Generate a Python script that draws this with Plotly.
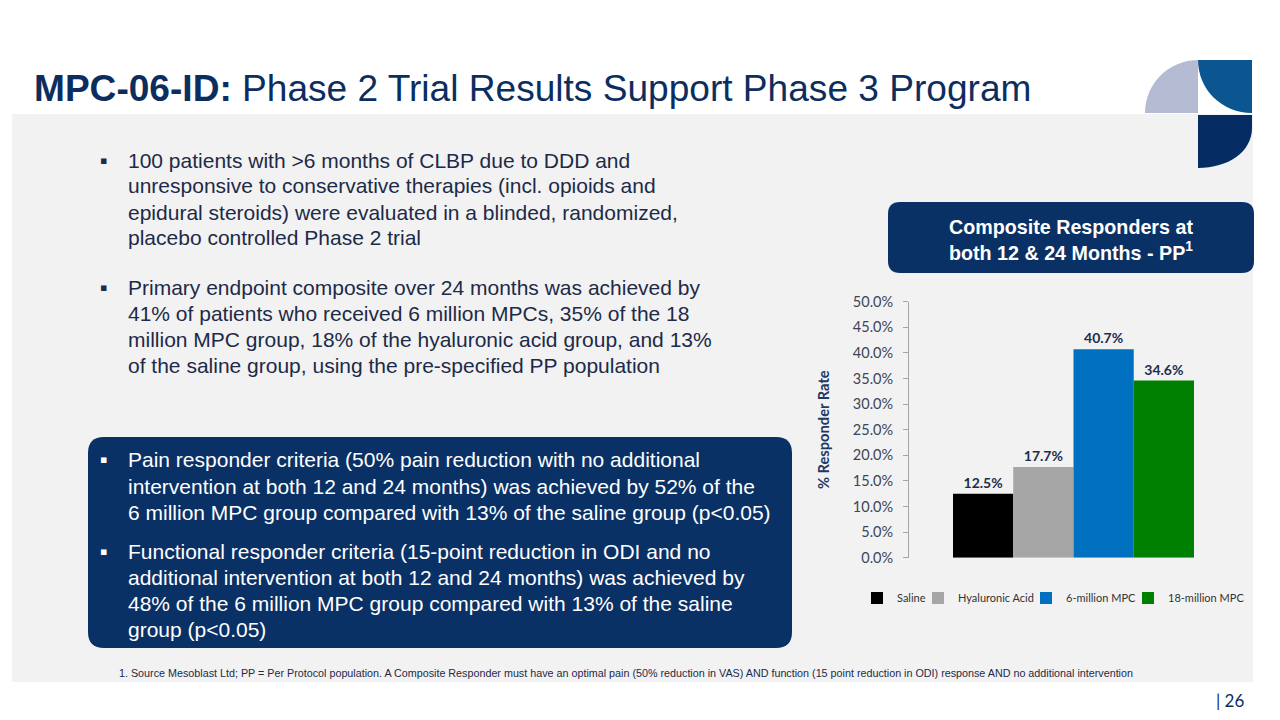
import plotly.graph_objects as go

W, H = 1280, 720

# ---- data ----
groups = ["Saline", "Hyaluronic Acid", "6-million MPC", "18-million MPC"]
responder_rate = [12.5, 17.7, 40.7, 34.6]
bar_colors = ["#000000", "#a6a6a6", "#0070c0", "#008000"]
legend_widths = [16, 63, 57, 76]   # px reserved for each legend label
category = ["Composite Responders"]
y_ticks = [0, 5, 10, 15, 20, 25, 30, 35, 40, 45, 50]

title_bold = "MPC-06-ID:"
title_rest = "Phase 2 Trial Results Support Phase 3 Program"
bullets_top = [
    "100 patients with >6 months of CLBP due to DDD and<br>unresponsive to conservative therapies (incl. opioids and<br>epidural steroids) were evaluated in a blinded, randomized,<br>placebo controlled Phase 2 trial",
    "Primary endpoint composite over 24 months was achieved by<br>41% of patients who received 6 million MPCs, 35% of the 18<br>million MPC group, 18% of the hyaluronic acid group, and 13%<br>of the saline group, using the pre-specified PP population",
]
bullets_box = [
    "Pain responder criteria (50% pain reduction with no additional<br>intervention at both 12 and 24 months) was achieved by 52% of the<br>6 million MPC group compared with 13% of the saline group (p<0.05)",
    "Functional responder criteria (15-point reduction in ODI and no<br>additional intervention at both 12 and 24 months) was achieved by<br>48% of the 6 million MPC group compared with 13% of the saline<br>group (p<0.05)",
]
chart_title = "Composite Responders at<br>both 12 & 24 Months - PP<sup>1</sup>"
footnote = ("1. Source Mesoblast Ltd; PP = Per Protocol population. A Composite Responder must have an optimal pain "
            "(50% reduction in VAS) AND function (15 point reduction in ODI) response AND no additional intervention")
page_no = "| 26"

NAVY = "#0c2e5f"
BOX = "#0a3166"
TEXT = "#1d2a48"


def X(px):
    return px / W


def Y(py):
    return 1 - py / H


def P(x, y):
    return f"{X(x):.5f},{Y(y):.5f}"


def rrect(x0, y0, x1, y1, r):
    return (f"M{P(x0 + r, y0)} L{P(x1 - r, y0)} Q{P(x1, y0)} {P(x1, y0 + r)} "
            f"L{P(x1, y1 - r)} Q{P(x1, y1)} {P(x1 - r, y1)} L{P(x0 + r, y1)} "
            f"Q{P(x0, y1)} {P(x0, y1 - r)} L{P(x0, y0 + r)} Q{P(x0, y0)} {P(x0 + r, y0)} Z")


fig = go.Figure()
for g, v, c, lw in zip(groups, responder_rate, bar_colors, legend_widths):
    fig.add_trace(go.Bar(
        x=category, y=[v], name=g, marker=dict(color=c, line=dict(width=0)),
        texttemplate="%{y:.1f}%", textposition="outside", cliponaxis=False,
        textfont=dict(family="Lato", size=14, color="#1f2d4d", weight="bold"),
        hoverinfo="skip", legendwidth=lw,
    ))

shapes = []
# grey content panel
shapes.append(dict(type="rect", xref="paper", yref="paper", x0=X(12), x1=X(1253), y0=Y(682), y1=Y(114),
                   fillcolor="#f2f2f2", line=dict(width=0), layer="below"))
# logo
k1 = 0.5523 * 53
shapes.append(dict(type="path", xref="paper", yref="paper", layer="below",
                   path=f"M{P(1198, 113)} L{P(1145, 113)} C{P(1145, 113 - k1)} {P(1198 - k1, 60)} {P(1198, 60)} Z",
                   fillcolor="#b4bbd3", line=dict(width=0)))
k2 = 0.5523 * 54
shapes.append(dict(type="path", xref="paper", yref="paper", layer="below",
                   path=f"M{P(1252, 60)} L{P(1198, 60)} C{P(1198, 60 + k2)} {P(1252 - k2, 113)} {P(1252, 113)} Z",
                   fillcolor="#0b5690", line=dict(width=0)))
shapes.append(dict(type="path", xref="paper", yref="paper", layer="below",
                   path=f"M{P(1198, 115)} L{P(1252, 115)} L{P(1252, 128)} C{P(1252, 152)} {P(1228, 168)} {P(1198, 168)} Z",
                   fillcolor="#062d63", line=dict(width=0)))
# dark boxes
shapes.append(dict(type="path", xref="paper", yref="paper", layer="below",
                   path=rrect(888, 202, 1254, 273, 12), fillcolor=BOX, line=dict(width=0)))
shapes.append(dict(type="path", xref="paper", yref="paper", layer="below",
                   path=rrect(88, 437, 792, 648, 16), fillcolor=BOX, line=dict(width=0)))

ann = []
ann.append(dict(text=f"<b>{title_bold}</b> {title_rest}", x=X(32), y=Y(88), xanchor="left", yanchor="middle",
                font=dict(family="Liberation Sans", size=37.1, color=NAVY)))


def add_bullet(text, first_y, color):
    for i, line in enumerate(text.split("<br>")):
        ann.append(dict(text=line, x=X(126), y=Y(first_y + 26 * i), xanchor="left", yanchor="middle",
                        align="left", font=dict(family="Liberation Sans", size=21, color=color)))
    ann.append(dict(text="▪", x=X(103), y=Y(first_y), xanchor="center", yanchor="middle",
                    font=dict(family="DejaVu Sans", size=11, color=color)))


for txt, first in zip(bullets_top, [160, 287]):
    add_bullet(txt, first, TEXT)
for txt, first in zip(bullets_box, [460, 551]):
    add_bullet(txt, first, "#ffffff")

ann.append(dict(text=f"<b>{chart_title}</b>", x=X(1071), y=Y(240), xanchor="center", yanchor="middle",
                align="center", font=dict(family="Liberation Sans", size=19.7, color="#ffffff")))
ann.append(dict(text=footnote, x=X(117), y=Y(673), xanchor="left", yanchor="middle",
                font=dict(family="Liberation Sans", size=10.75, color=TEXT)))
ann.append(dict(text=page_no, x=X(1246), y=Y(700), xanchor="right", yanchor="middle",
                font=dict(family="Lato", size=17, color=NAVY)))
for a in ann:
    a.update(xref="paper", yref="paper", showarrow=False)

fig.update_layout(
    width=W, height=H, margin=dict(l=0, r=0, t=0, b=0, pad=0, autoexpand=False),
    paper_bgcolor="#ffffff", plot_bgcolor="rgba(0,0,0,0)",
    barmode="group", bargap=0.2675, bargroupgap=0,
    shapes=shapes, annotations=ann,
    showlegend=True,
    legend=dict(orientation="h", x=X(857), y=Y(598), xanchor="left", yanchor="middle",
                bgcolor="rgba(0,0,0,0)", font=dict(family="Lato", size=11, color="#333333"),
                itemwidth=30, traceorder="normal"),
    xaxis=dict(domain=[X(909), X(1238)], showticklabels=False, showline=False, showgrid=False,
               zeroline=False, ticks="", automargin=False),
    yaxis=dict(domain=[Y(557.7), Y(301.7)], range=[0, 50], tickvals=y_ticks,
               ticktext=[f"{t:.1f}%" for t in y_ticks], automargin=False,
               showline=True, linecolor="#a6a6a6", linewidth=1, ticks="outside", ticklen=5,
               tickcolor="#a6a6a6", showgrid=False, zeroline=False, ticklabelstandoff=7,
               tickfont=dict(family="Lato", size=14.5, color="#3b4559"),
               title=dict(text="<b>% Responder Rate</b>", standoff=19,
                          font=dict(family="Lato", size=14.7, color="#1f3864"))),
)

post = ("var gd=document.getElementById('{plot_id}');"
        "document.documentElement.style.margin='0';document.body.style.margin='0';"
        "document.documentElement.style.overflow='hidden';document.body.style.overflow='hidden';"
        "gd.style.position='fixed';gd.style.left='0px';gd.style.top='0px';")

fig.write_html("out.html", post_script=post, config={"displayModeBar": False})
